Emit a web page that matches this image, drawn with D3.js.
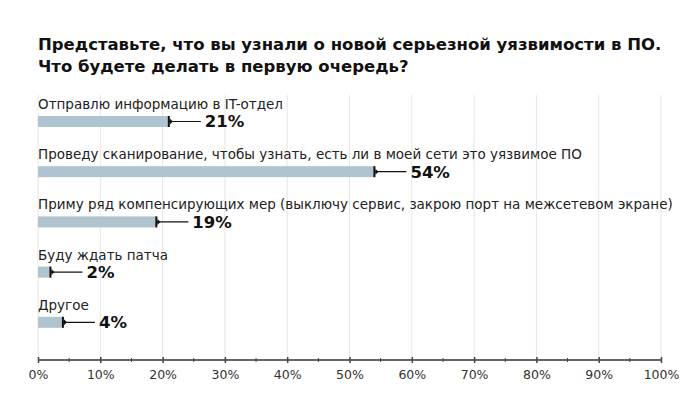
<!DOCTYPE html>
<html>
<head>
<meta charset="utf-8">
<script src="https://cdn.jsdelivr.net/npm/d3@7"></script>
<style>
  body { margin: 0; background: #fff; }
  svg { display: block; font-family: "DejaVu Sans", sans-serif; }
</style>
</head>
<body>
<svg id="chart" width="700" height="397"></svg>
<script>
const titleLines = ["Представьте, что вы узнали о новой серьезной уязвимости в ПО.",
                    "Что будете делать в первую очередь?"];
const categories = ["Отправлю информацию в IT-отдел",
                    "Проведу сканирование, чтобы узнать, есть ли в моей сети это уязвимое ПО",
                    "Приму ряд компенсирующих мер (выключу сервис, закрою порт на межсетевом экране)",
                    "Буду ждать патча",
                    "Другое"];
const values = [21, 54, 19, 2, 4];
const tickValues = [0, 10, 20, 30, 40, 50, 60, 70, 80, 90, 100];
const minorTicks = [5, 15, 25, 35, 45, 55, 65, 75, 85, 95];

const svg = d3.select("#chart");
const x = d3.scaleLinear().domain([0, 100]).range([38, 661]);
const y = d3.scaleBand().domain(categories).range([95, 346]).paddingInner(0).paddingOuter(0);
const axisY = 360;

// title
svg.append("g").selectAll("text").data(titleLines).enter().append("text")
  .attr("x", 38).attr("y", (d, i) => 50 + i * 22)
  .attr("font-weight", "bold").attr("font-size", 16.5).attr("fill", "#111")
  .text(d => d);

// gridlines
svg.append("g").selectAll("line").data(tickValues).enter().append("line")
  .attr("x1", d => x(d)).attr("x2", d => x(d))
  .attr("y1", 95).attr("y2", axisY)
  .attr("stroke", "#e6e6e6").attr("stroke-width", 1);

const rows = svg.append("g").selectAll("g").data(categories).enter().append("g")
  .attr("transform", d => `translate(0,${y(d)})`);

rows.append("text")
  .attr("x", 38).attr("y", 14)
  .attr("font-size", 13.5).attr("fill", "#222")
  .text(d => d);

const barTop = 21, barH = 11;
rows.append("rect")
  .attr("x", x(0)).attr("y", barTop)
  .attr("width", (d, i) => x(values[i]) - x(0))
  .attr("height", barH)
  .attr("fill", "#afc4ce");

// marker line
rows.append("line")
  .attr("x1", (d, i) => x(values[i])).attr("x2", (d, i) => x(values[i]) + 32)
  .attr("y1", barTop + barH / 2).attr("y2", barTop + barH / 2)
  .attr("stroke", "#111").attr("stroke-width", 1.2);
rows.append("rect")
  .attr("x", (d, i) => x(values[i]) - 1).attr("y", barTop)
  .attr("width", 2).attr("height", barH)
  .attr("fill", "#111");
rows.append("path")
  .attr("d", (d, i) => {
    const px = x(values[i]) + 1, py = barTop + barH / 2;
    return `M${px},${py - 3}L${px + 3},${py}L${px},${py + 3}Z`;
  })
  .attr("fill", "#111");

rows.append("text")
  .attr("x", (d, i) => x(values[i]) + 36).attr("y", barTop + barH / 2)
  .attr("dy", "0.36em")
  .attr("font-size", 16.5).attr("font-weight", "bold").attr("fill", "#111")
  .text((d, i) => values[i] + "%");

// axis
const xAxis = d3.axisBottom(x).tickValues(tickValues).tickSize(3).tickFormat(d => d + "%");
const axisG = svg.append("g").attr("transform", `translate(0,${axisY})`).call(xAxis);
axisG.select(".domain").attr("stroke", "#666").attr("stroke-width", 2.2).attr("d", `M${x(0)},0H${x(100)}`);
axisG.selectAll(".tick line").attr("stroke", "#444").attr("stroke-width", 1.5).attr("y1", -3).attr("y2", 3);
axisG.selectAll(".tick text").attr("font-family", "DejaVu Sans, sans-serif").attr("font-size", 12.5).attr("fill", "#333").attr("y", 10);
svg.append("g").attr("transform", `translate(0,${axisY})`).selectAll("line").data(minorTicks).enter().append("line")
  .attr("x1", d => x(d)).attr("x2", d => x(d)).attr("y1", -2).attr("y2", 2)
  .attr("stroke", "#444").attr("stroke-width", 1);
</script>
</body>
</html>
